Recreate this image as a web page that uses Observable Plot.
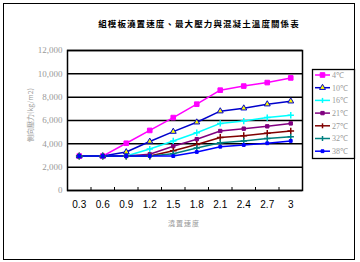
<!DOCTYPE html>
<html>
<head>
<meta charset="utf-8">
<script src="https://cdn.jsdelivr.net/npm/d3@7"></script>
<script src="https://cdn.jsdelivr.net/npm/@observablehq/plot@0.6"></script>
<style>
html,body{margin:0;padding:0;background:#fff;}
#wrap{position:relative;width:360px;height:262px;overflow:hidden;background:#fff;}
#border{position:absolute;left:3px;top:3px;width:350px;height:255px;border:1px solid #000;box-sizing:content-box;}
#title{position:absolute;left:0;width:398px;top:17px;text-align:center;font-family:"Noto Sans CJK TC";font-weight:bold;font-size:8.5px;letter-spacing:1.1px;color:#000;white-space:nowrap;}
#ylab{position:absolute;left:30px;top:115px;transform:translate(-50%,-50%) rotate(-90deg);font-family:"Noto Sans CJK TC";font-size:7px;color:#999;white-space:nowrap;}
#xlab{position:absolute;left:184px;top:223px;transform:translate(-50%,-50%);font-family:"Noto Sans CJK TC";font-size:7px;letter-spacing:1px;color:#999;white-space:nowrap;}
#chart{position:absolute;left:0;top:0;}
#legend{position:absolute;left:0;top:0;}
</style>
</head>
<body>
<div id="wrap">
  <div id="chart"></div>
  <div id="border"></div>
  <div id="title">組模板澆置速度、最大壓力與混凝土溫度關係表</div>
  <div id="ylab">側向壓力(kg/m2)</div>
  <div id="xlab">澆置速度</div>
  <svg id="legend" width="360" height="262"></svg>
</div>
<script>
// ---- data ----
const speeds = [0.3, 0.6, 0.9, 1.2, 1.5, 1.8, 2.1, 2.4, 2.7, 3];
const xLabels = ["0.3", "0.6", "0.9", "1.2", "1.5", "1.8", "2.1", "2.4", "2.7", "3"];
const yTicks = [0, 2000, 4000, 6000, 8000, 10000, 12000];
const temps = ["4℃", "10℃", "16℃", "21℃", "27℃", "32℃", "38℃"];
const p4  = [2950, 2950, 4050, 5150, 6250, 7400, 8600, 8950, 9250, 9650];
const p10 = [2950, 2950, 3300, 4200, 5050, 5850, 6800, 7050, 7400, 7650];
const p16 = [2950, 2950, 2950, 3550, 4250, 4950, 5750, 5950, 6250, 6450];
const p21 = [2950, 2950, 2950, 3100, 3800, 4400, 5100, 5300, 5500, 5750];
const p27 = [2950, 2950, 2950, 2950, 3400, 3950, 4550, 4700, 4900, 5100];
const p32 = [2950, 2950, 2950, 2950, 3150, 3650, 4100, 4250, 4450, 4600];
const p38 = [2950, 2950, 2950, 2950, 2950, 3300, 3750, 3900, 4050, 4250];
const seriesValues = [p4, p10, p16, p21, p27, p32, p38];

// ---- styles ----
const colors = ["#ff00ff", "#0000cc", "#00ffff", "#800080", "#800000", "#008080", "#0000ff"];
const symbols = ["square", "triangle", "plus", "square", "plus", "plus", "square"];
const fills = ["#ff00ff", "#ffff00", "none", "#800080", "none", "none", "#0000ff"];
const radii = [2.6, 2.2, 2.2, 1.9, 2.3, 2.2, 1.6];

const rows = [];
temps.forEach((t, si) => {
  seriesValues[si].forEach((v, i) => rows.push({series: t, si, speed: speeds[i], value: v}));
});
const bounds = speeds.slice(0, -1).map((s, i) => (s + speeds[i + 1]) / 2);

const marks = [
  Plot.gridY(yTicks, {stroke: "#000", strokeOpacity: 1, strokeWidth: 1.5}),
  Plot.frame({stroke: "#000", strokeWidth: 1.5}),
  Plot.ruleX(bounds, {y1: 0, y2: 0, insetTop: -3, stroke: "#000", strokeWidth: 1}),
  Plot.axisY({ticks: yTicks, tickSize: 0, tickPadding: 5, label: null, fill: "#999", fontSize: 9, fontFamily: "Liberation Serif"}),
  Plot.axisX({ticks: speeds, tickSize: 0, tickPadding: 10, label: null, tickFormat: d => xLabels[speeds.indexOf(d)], fill: "#000", fontSize: 10, fontFamily: "Liberation Sans"})
];
temps.forEach((t, si) => {
  const data = rows.filter(r => r.si === si);
  marks.push(Plot.line(data, {x: "speed", y: "value", stroke: colors[si], strokeWidth: 1.5}));
});
temps.forEach((t, si) => {
  const data = rows.filter(r => r.si === si);
  marks.push(Plot.dot(data, {x: "speed", y: "value", symbol: () => symbols[si], stroke: colors[si], fill: fills[si], r: radii[si], strokeWidth: symbols[si] === "plus" ? 1.5 : 1}));
});

const chart = Plot.plot({
  width: 360, height: 262,
  marginLeft: 67, marginRight: 58, marginTop: 50, marginBottom: 72,
  x: {type: "linear", domain: [0.15, 3.15], axis: null, label: null},
  y: {domain: [0, 12000], axis: null, label: null},
  symbol: {type: "identity"},
  style: {background: "transparent"},
  marks
});
document.getElementById("chart").appendChild(chart);

// ---- legend ----
const lg = d3.select("#legend");
lg.append("rect").attr("x", 312.5).attr("y", 69.5).attr("width", 42).attr("height", 89)
  .attr("fill", "#fff").attr("stroke", "#000").attr("stroke-width", 1.3);
const symMap = {square: d3.symbolSquare, triangle: d3.symbolTriangle};
temps.forEach((t, si) => {
  const y = 75 + si * 12.7;
  lg.append("line").attr("x1", 315).attr("x2", 330).attr("y1", y).attr("y2", y)
    .attr("stroke", colors[si]).attr("stroke-width", 1.5);
  if (symbols[si] === "plus") {
    lg.append("line").attr("x1", 322.5).attr("x2", 322.5).attr("y1", y - 2.5).attr("y2", y + 2.5)
      .attr("stroke", colors[si]).attr("stroke-width", 1.5);
  } else {
    lg.append("path").attr("d", d3.symbol(symMap[symbols[si]], Math.PI * radii[si] * radii[si])())
      .attr("transform", `translate(322.5,${y})`)
      .attr("fill", fills[si]).attr("stroke", colors[si]).attr("stroke-width", 1);
  }
  lg.append("text").attr("x", 332).attr("y", y).attr("dy", "0.35em")
    .attr("font-family", "Liberation Serif").attr("font-size", 8).attr("fill", "#999").text(t);
});
</script>
</body>
</html>
